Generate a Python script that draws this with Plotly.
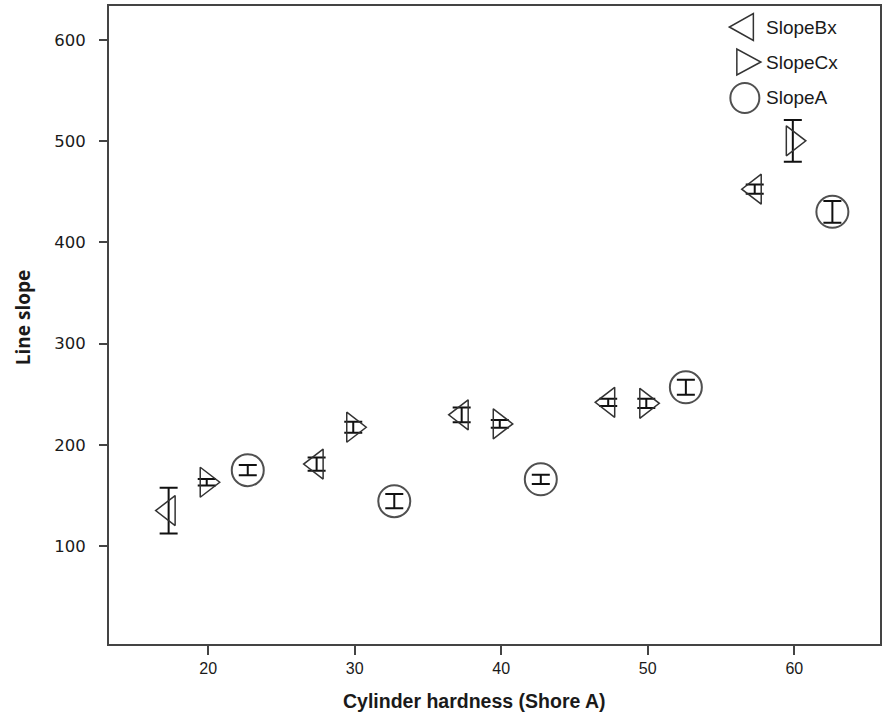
import plotly.graph_objects as go

# Data
hardness_Bx = [17.3, 27.4, 37.3, 47.3, 57.3]
slope_Bx = [135, 181, 229.6, 242, 452.6]
err_Bx = [22.5, 6.6, 7.4, 3.6, 4.6]

hardness_Cx = [19.9, 29.9, 39.9, 49.9, 59.9]
slope_Cx = [163, 217.4, 220.7, 241, 500.4]
err_Cx = [3.3, 5.5, 3.8, 4.5, 20.6]

hardness_A = [22.7, 32.7, 42.7, 52.6, 62.6]
slope_A = [175, 144.3, 165.9, 256.8, 430.2]
err_A = [5, 7, 4.6, 7.4, 10.7]

series_names = ["SlopeBx", "SlopeCx", "SlopeA"]
x_ticks = [20, 30, 40, 50, 60]
y_ticks = [100, 200, 300, 400, 500, 600]
x_title = "Cylinder hardness (Shore A)"
y_title = "Line slope"

MARK = "#333333"
TXT = "#1a1a1a"

fig = go.Figure()

def add_series(x, y, e, symbol, size, name, lw, lc):
    fig.add_trace(go.Scatter(
        x=x, y=y, mode="markers", name=name, showlegend=False,
        marker=dict(symbol=symbol, size=size, color=lc,
                    line=dict(color=lc, width=lw)),
        error_y=dict(type="data", array=e, visible=True, color="#111111",
                     thickness=2, width=9),
    ))

add_series(hardness_Bx, slope_Bx, err_Bx, "triangle-left-open", 26, series_names[0], 1.5, MARK)
add_series(hardness_Cx, slope_Cx, err_Cx, "triangle-right-open", 26, series_names[1], 1.5, MARK)
add_series(hardness_A, slope_A, err_A, "circle-open", 32, series_names[2], 2, "#505050")

# Manual legend (large symbols as in the reference)
L, T, W, H = 109, 6, 773, 638
def px(xp):
    return (xp - L) / W
def py(yp):
    return (T + H - yp) / H

legend_shapes = [
    dict(path="M -12 0 L 12 -13.5 L 12 13.5 Z", ax=743, ay=27),
    dict(path="M 12.5 0 L -11.5 -13 L -11.5 13 Z", ax=750, ay=62),
]
for s in legend_shapes:
    fig.add_shape(type="path", xref="paper", yref="paper",
                  xsizemode="pixel", ysizemode="pixel",
                  xanchor=px(s["ax"]), yanchor=py(s["ay"]), path=s["path"],
                  line=dict(color=MARK, width=1.5))
fig.add_shape(type="circle", xref="paper", yref="paper",
              xsizemode="pixel", ysizemode="pixel",
              xanchor=px(746.5), yanchor=py(98),
              x0=-14.5, x1=14.5, y0=-15, y1=15,
              line=dict(color="#505050", width=2))
for name, yp in zip(series_names, [27, 62, 98]):
    fig.add_annotation(text=name, xref="paper", yref="paper",
                       x=px(766), y=py(yp), xanchor="left", yanchor="middle",
                       showarrow=False,
                       font=dict(family="Liberation Sans, Arial", size=19, color=TXT))

# Axis titles
fig.add_annotation(text="<b>" + x_title + "</b>", xref="paper", yref="paper",
                   x=px(475), y=py(701), xanchor="center", yanchor="middle",
                   showarrow=False,
                   font=dict(family="Liberation Sans, Arial", size=19.5, color=TXT))
fig.add_annotation(text="<b>" + y_title + "</b>", xref="paper", yref="paper",
                   x=px(23), y=py(318), xanchor="center", yanchor="middle",
                   textangle=-90, showarrow=False,
                   font=dict(family="Open Sans, Calibri", size=19, color=TXT))

fig.update_layout(
    width=883, height=715,
    margin=dict(l=109, r=1, t=6, b=71),
    plot_bgcolor="white", paper_bgcolor="white",
    xaxis=dict(
        range=[13.23, 65.85], tickvals=x_ticks,
        showgrid=False, zeroline=False,
        showline=True, linecolor="#444444", linewidth=2, mirror=True,
        ticks="outside", ticklen=9, tickwidth=2, tickcolor="#444444",
        ticklabelstandoff=0,
        tickfont=dict(family="Liberation Sans, Arial", size=16, color=TXT),
    ),
    yaxis=dict(
        range=[3.2, 633.6], tickvals=y_ticks,
        showgrid=False, zeroline=False,
        showline=True, linecolor="#444444", linewidth=2, mirror=True,
        ticks="outside", ticklen=8, tickwidth=2, tickcolor="#444444",
        ticklabelstandoff=10,
        tickfont=dict(family="DejaVu Sans, Verdana", size=16.5, color=TXT),
    ),
)

fig.write_html("out.html")
